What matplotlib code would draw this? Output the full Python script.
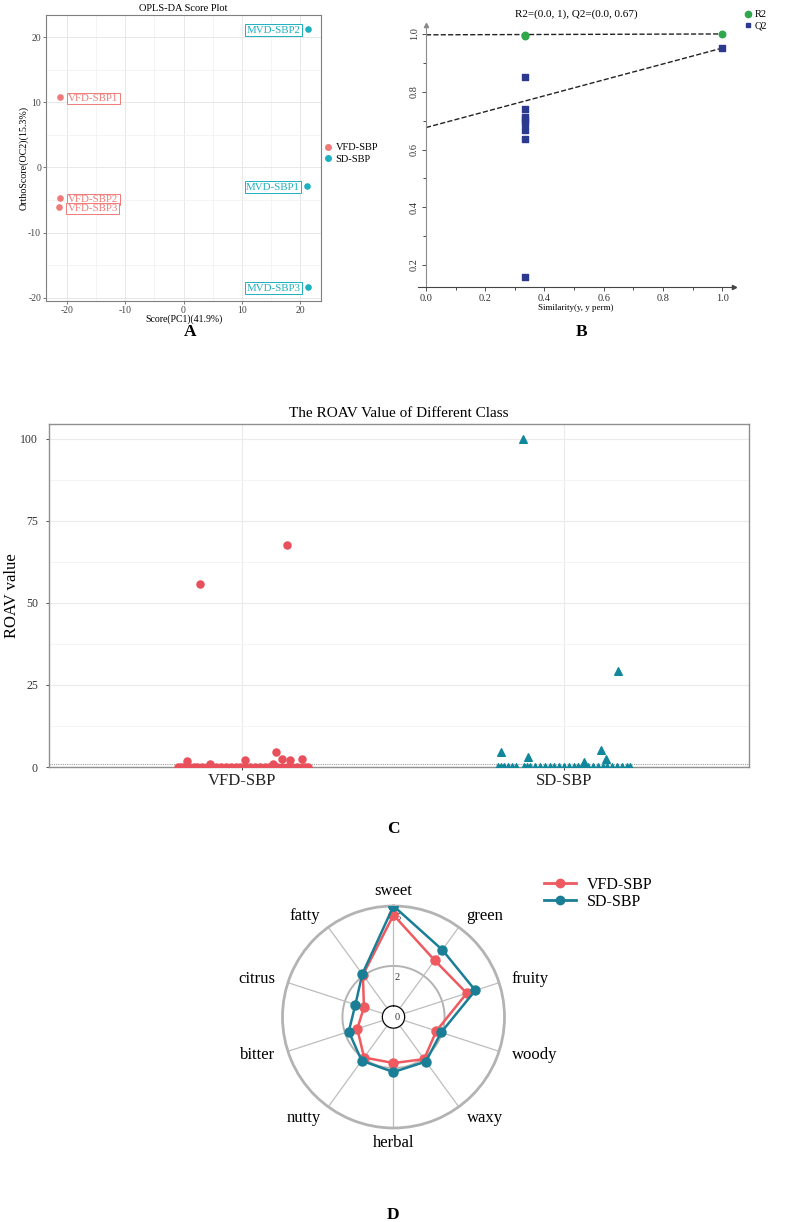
import numpy as np
import matplotlib
matplotlib.use("Agg")
import matplotlib.pyplot as plt
from matplotlib.ticker import MultipleLocator
from matplotlib.lines import Line2D

plt.rcParams['font.family'] = ['Liberation Serif', 'DejaVu Serif']
plt.rcParams['axes.unicode_minus'] = False

# ---------------------------------------------------------------- data
# A: OPLS-DA score plot
score_names = ['VFD-SBP1', 'VFD-SBP2', 'VFD-SBP3', 'MVD-SBP1', 'MVD-SBP2', 'MVD-SBP3']
score_group = ['VFD-SBP', 'VFD-SBP', 'VFD-SBP', 'SD-SBP', 'SD-SBP', 'SD-SBP']
score_pc1 = [-21.2, -21.2, -21.3, 21.2, 21.3, 21.3]
score_oc2 = [10.8, -4.7, -6.1, -2.8, 21.3, -18.3]

# B: permutation test
r2_x = [0.333, 0.333, 1.0]
r2_y = [0.995, 0.993, 1.0]
q2_x = [0.333, 0.333, 0.333, 0.333, 0.333, 0.333, 0.333, 0.333, 1.0]
q2_y = [0.851, 0.739, 0.712, 0.702, 0.691, 0.667, 0.637, 0.158, 0.951]
r2_fit = [0.997, 1.0]   # value at similarity 0 and 1
q2_fit = [0.676, 0.951]

# C: ROAV values (x = class index + jitter)
vfd_jit = [-0.20, -0.19, -0.18, -0.165, -0.15, -0.14, -0.125, -0.11, -0.095, -0.08,
           -0.065, -0.05, -0.035, -0.02, -0.005, 0.01, 0.025, 0.04, 0.055, 0.07,
           0.085, 0.095, 0.11, 0.125, 0.14, 0.155, 0.17, 0.185, 0.195, 0.205,
           -0.17, -0.10, 0.01, 0.095, 0.105, 0.125, 0.15, 0.185, -0.13, 0.14]
vfd_roav = [0] * 30 + [1.9, 0.8, 2.2, 0.8, 4.6, 2.5, 2.0, 2.5, 55.8, 67.7]
sd_jit = [-0.205, -0.195, -0.185, -0.175, -0.16, -0.15, -0.125, -0.115, -0.105,
          -0.09, -0.075, -0.06, -0.045, -0.03, -0.015, 0.0, 0.015, 0.03,
          0.045, 0.06, 0.075, 0.09, 0.105, 0.12, 0.135, 0.15, 0.165, 0.18, 0.195, 0.205,
          -0.196, -0.113, 0.063, 0.114, 0.13, -0.128, 0.169]
sd_roav = [0] * 30 + [4.6, 3.0, 1.4, 5.3, 2.5, 100.0, 29.2]

# D: flavour radar
flavours = ['sweet', 'green', 'fruity', 'woody', 'waxy', 'herbal', 'nutty', 'bitter', 'citrus', 'fatty']
vfd_flav = [4.55, 2.95, 3.3, 1.7, 2.05, 1.75, 1.95, 1.35, 1.0, 2.05]
sd_flav = [5.0, 3.6, 3.75, 1.95, 2.2, 2.2, 2.15, 1.8, 1.45, 2.1]

W, H = 787, 1222
fig = plt.figure(figsize=(W / 100, H / 100), dpi=100)


def box(l, t, r, b, **kw):
    return fig.add_axes([l / W, 1 - b / H, (r - l) / W, (b - t) / H], **kw)


# ---------------------------------------------------------------- A
ca_red, ca_cyan = '#F07A78', '#1DB0C0'
ax = box(46, 15, 321, 301)
for name, grp, x, y in zip(score_names, score_group, score_pc1, score_oc2):
    col = ca_red if grp == 'VFD-SBP' else ca_cyan
    ax.scatter(x, y, s=14, color=col, zorder=3)
    if grp == 'VFD-SBP':
        ax.annotate(name, (x, y), xytext=(6, -1), textcoords='offset points', ha='left', va='center',
                    fontsize=7.8, color=col, bbox=dict(boxstyle='square,pad=0.12', fc='white', ec=col, lw=0.7))
    else:
        ax.annotate(name, (x, y), xytext=(-5, -1), textcoords='offset points', ha='right', va='center',
                    fontsize=7.8, color=col, bbox=dict(boxstyle='square,pad=0.12', fc='white', ec=col, lw=0.7))
ax.set_xlim(-23.6, 23.6)
ax.set_ylim(-20.5, 23.4)
ax.xaxis.set_major_locator(MultipleLocator(10))
ax.xaxis.set_minor_locator(MultipleLocator(5))
ax.yaxis.set_major_locator(MultipleLocator(10))
ax.yaxis.set_minor_locator(MultipleLocator(5))
ax.grid(which='major', color='#E4E4E4', lw=0.6)
ax.grid(which='minor', color='#F0F0F0', lw=0.5)
ax.set_axisbelow(True)
ax.tick_params(labelsize=7, length=2, width=0.5, colors='#444444', pad=1.5)
ax.tick_params(which='minor', length=0)
for s in ax.spines.values():
    s.set_color('#7F7F7F')
    s.set_linewidth(0.8)
ax.set_title('OPLS-DA Score Plot', fontsize=7.5, pad=3)
ax.set_xlabel('Score(PC1)(41.9%)', fontsize=7, labelpad=0)
ax.set_ylabel('OrthoScore(OC2)(15.3%)', fontsize=7.2, labelpad=0)
fig.legend(handles=[Line2D([], [], ls='', marker='o', ms=4, color=ca_red, label='VFD-SBP'),
                    Line2D([], [], ls='', marker='o', ms=4, color=ca_cyan, label='SD-SBP')],
           loc='upper left', bbox_to_anchor=(318 / W, 1 - 138 / H), frameon=False, fontsize=7.5,
           handletextpad=0.2, labelspacing=0.2, borderpad=0, handlelength=1)

# ---------------------------------------------------------------- B
cb_green, cb_navy = '#2EA84A', '#2B3A8F'
ax = box(418, 25, 734, 287)
ax.plot([0, 1], r2_fit, ls='--', color='#222222', lw=1)
ax.plot([0, 1], q2_fit, ls='--', color='#222222', lw=1)
ax.scatter(r2_x, r2_y, s=22, color=cb_green, zorder=3)
ax.scatter(q2_x, q2_y, s=14, marker='s', color=cb_navy, zorder=3)
ax.set_xlim(-0.027, 1.04)
ax.set_ylim(0.124, 1.031)
ax.spines['top'].set_visible(False)
ax.spines['right'].set_visible(False)
ax.spines['left'].set_position(('data', 0))
ax.spines['left'].set_color('#8A8A8A')
ax.spines['bottom'].set_color('#444444')
ax.plot(1, 0, '>', color='#444444', ms=3, transform=ax.transAxes, clip_on=False)
ax.plot(0, 1, '^', color='#8A8A8A', ms=3, transform=ax.get_xaxis_transform(), clip_on=False)
ax.xaxis.set_major_locator(MultipleLocator(0.2))
ax.xaxis.set_minor_locator(MultipleLocator(0.1))
ax.yaxis.set_major_locator(MultipleLocator(0.2))
ax.yaxis.set_minor_locator(MultipleLocator(0.1))
ax.tick_params(labelsize=7.5, length=3, width=0.6, colors='#333333', pad=2)
ax.tick_params(which='minor', length=2, width=0.5)
for lab in ax.get_yticklabels():
    lab.set_rotation(90)
    lab.set_va('center')
ax.set_title('R2=(0.0, 1), Q2=(0.0, 0.67)', fontsize=8, pad=6)
ax.set_xlabel('Similarity(y, y perm)', fontsize=6.5, labelpad=1)
fig.legend(handles=[Line2D([], [], ls='', marker='o', ms=4.5, color=cb_green, label='R2'),
                    Line2D([], [], ls='', marker='s', ms=3.5, color=cb_navy, label='Q2')],
           loc='upper left', bbox_to_anchor=(738 / W, 1 - 5 / H), frameon=False, fontsize=7.5,
           handletextpad=0.1, labelspacing=0.15, borderpad=0, handlelength=1)

# ---------------------------------------------------------------- C
cc_red, cc_teal = '#E8505B', '#11879C'
ax = box(49, 424, 749, 767)
ax.scatter(1 + np.array(vfd_jit), vfd_roav, s=26, color=cc_red, zorder=3)
ax.scatter(2 + np.array(sd_jit), sd_roav, s=30, marker='^', color=cc_teal, zorder=3)
ax.axhline(1, color='#A0A0A0', lw=0.8, ls=(0, (1, 1)), zorder=2)
ax.set_xlim(0.4006, 2.5745)
ax.set_ylim(0, 104.5)
ax.set_xticks([1, 2])
ax.set_xticklabels(['VFD-SBP', 'SD-SBP'], fontsize=12)
ax.yaxis.set_major_locator(MultipleLocator(25))
ax.yaxis.set_minor_locator(MultipleLocator(12.5))
ax.grid(axis='y', which='major', color='#EBEBEB', lw=0.8)
ax.grid(axis='y', which='minor', color='#F3F3F3', lw=0.6)
ax.grid(axis='x', which='major', color='#EBEBEB', lw=0.8)
ax.set_axisbelow(True)
ax.tick_params(axis='y', labelsize=8.5, length=2, width=0.6, colors='#333333', pad=6)
ax.tick_params(axis='x', length=2, width=0.6, colors='#222222', pad=2)
ax.tick_params(which='minor', length=0)
for s in ax.spines.values():
    s.set_color('#8F8F8F')
    s.set_linewidth(1.0)
ax.set_ylabel('ROAV value', fontsize=12, labelpad=0)
ax.set_title('The ROAV Value of Different Class', fontsize=11, pad=5)

# ---------------------------------------------------------------- D
cd_red, cd_teal = '#EE5A60', '#1A7F96'
R = 111
cx, cy = 393.5, 1017
ax = box(cx - R, cy - R, cx + R, cy + R, projection='polar')
ang = np.linspace(0, 2 * np.pi, len(flavours), endpoint=False)
ax.set_theta_zero_location('N')
ax.set_theta_direction(-1)
rmax = 5
ax.set_ylim(0, rmax)
ax.set_rorigin(-rmax / 9)
ax.set_yticks([])
ax.set_xticks(ang)
ax.set_xticklabels([])
ax.grid(axis='x', color='#BDBDBD', lw=0.9)
ax.grid(axis='y', visible=False)
ax.spines['polar'].set_color('#B3B3B3')
ax.spines['polar'].set_linewidth(2)
if 'inner' in ax.spines:
    ax.spines['inner'].set_visible(False)
th = np.linspace(0, 2 * np.pi, 300)
for rv in [0, 2]:
    ax.plot(th, np.full_like(th, rv), color='#B3B3B3', lw=1.4, zorder=1)
for vals, col in [(vfd_flav, cd_red), (sd_flav, cd_teal)]:
    v = np.append(vals, vals[0])
    a = np.append(ang, ang[0])
    ax.plot(a, v, color=col, lw=1.8, marker='o', ms=6.5, zorder=3)
for txt, val in [('0', 0), ('2', 2), ('5', 5)]:
    ax.text(0.5 + 4 / (2 * R), 0.5 + val * 20 / (2 * R), txt, transform=ax.transAxes,
            fontsize=7.5, ha='center', va='center', color='#333333', zorder=2)
for a, lab in zip(ang, flavours):
    s, c = np.sin(a), np.cos(a)
    ha = 'left' if s > 0.3 else ('right' if s < -0.3 else 'center')
    va = 'bottom' if c > 0.9 else ('top' if c < -0.9 else 'center')
    r = rmax + (rmax * 1.111) * (0.06 if abs(c) > 0.9 else 0.12)
    ax.text(a, r, lab, fontsize=12, ha=ha, va=va, clip_on=False)
fig.legend(handles=[Line2D([], [], marker='o', ms=6, lw=2, color=cd_red, label='VFD-SBP'),
                    Line2D([], [], marker='o', ms=6, lw=2, color=cd_teal, label='SD-SBP')],
           loc='upper left', bbox_to_anchor=(536 / W, 1 - 869 / H), frameon=False, fontsize=11.5,
           handletextpad=0.7, labelspacing=0.05, borderpad=0, handlelength=2)

# ---------------------------------------------------------------- panel letters
for lab, x, y in [('A', 190, 332), ('B', 582, 332), ('C', 393, 829), ('D', 393, 1215)]:
    fig.text(x / W, 1 - y / H, lab, fontsize=12.5, fontweight='bold', ha='center', va='center')

fig.savefig('out.png', dpi=100)
